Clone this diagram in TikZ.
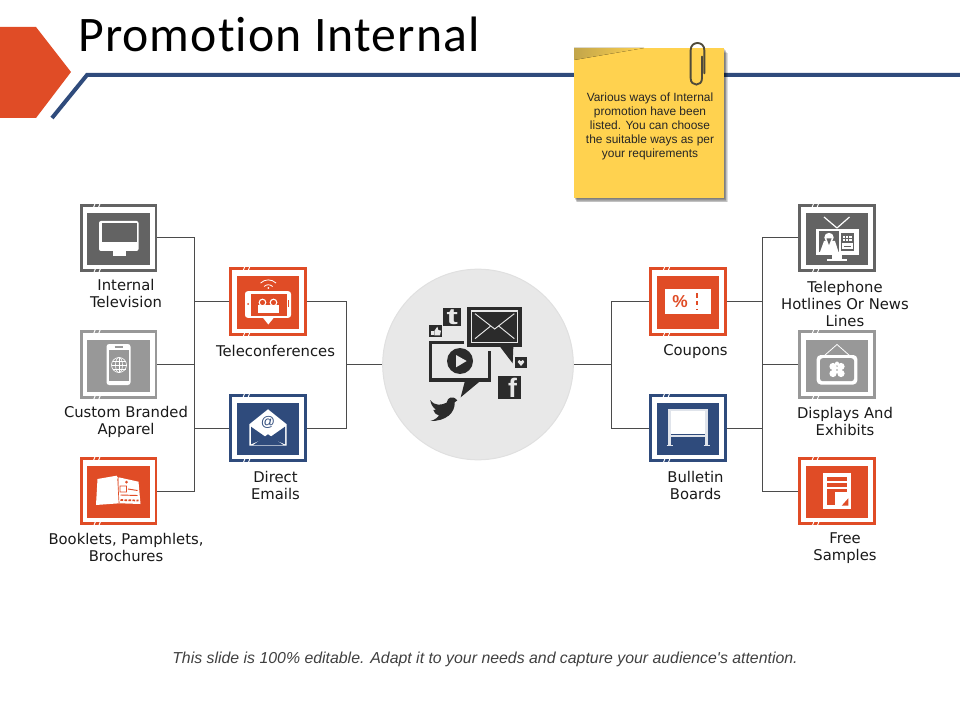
\documentclass[tikz,border=0pt]{standalone}
\usepackage{fontspec}
\setmainfont{DejaVu Sans}
\newfontfamily\titlefont[Ligatures=NoCommon, LetterSpace=2.2]{Carlito}
\newfontfamily\notefont{Liberation Sans}
\definecolor{tvgray}{HTML}{636363}
\definecolor{softgray}{HTML}{989898}
\definecolor{brick}{HTML}{E04C26}
\definecolor{navy}{HTML}{2F4B7C}
\definecolor{sticky}{HTML}{FFD24F}
\definecolor{foldtone}{HTML}{C2A54A}
\definecolor{clipdark}{HTML}{4F4A3A}
\definecolor{hubfill}{HTML}{E8E8E8}
\definecolor{inkdark}{HTML}{2B2B2B}
\newcommand{\iconbox}[4]{
\node[framebox, draw=#4] (#1) at (#2,#3) {};
\node[innerbox, fill=#4] (#1in) at (#2,#3+1) {};
\foreach \tx in {-25,-20} {
\draw[tickmark] (#2+\tx,#3-30.5) -- ++(2,-5);
\draw[tickmark] (#2+\tx,#3+35.5) -- ++(2,-5);
}
}
\begin{document}
\begin{tikzpicture}[x=0.75pt, y=-0.75pt,
framebox/.style = {rectangle, fill=white, line width=2pt, minimum width=56pt, minimum height=49.2pt, inner sep=0pt},
innerbox/.style = {rectangle, minimum width=47.2pt, minimum height=39pt, inner sep=0pt},
tickmark/.style = {white, line width=0.7pt},
link/.style = {draw=inkdark!85, line width=0.75pt},
caption/.style = {align=center, font=\fontsize{11.1pt}{12.75pt}\selectfont, text=black!90, inner sep=0pt},
ink/.style = {fill=inkdark, draw=none},
rule/.style = {draw=navy, line width=3pt, line join=miter}]
\useasboundingbox (0,0) rectangle (960,720);
\fill[brick] (0,27) -- (36,27) -- (71,72) -- (36,118) -- (0,118) -- cycle;
\coordinate (ruleend) at (960,75);
\coordinate (ruleknee) at (87,75);
\coordinate (rulefoot) at (52,118);
\draw[rule] (rulefoot) -- (ruleknee) -- (ruleend);
\node[anchor=base west, inner sep=0pt, font=\titlefont\fontsize{37.3pt}{37.3pt}\selectfont] (title) at (78,52) {Promotion Internal};

\node[circle, fill=hubfill, draw=black!12, line width=0.75pt, minimum size=143pt, inner sep=0pt] (hub) at (478,364.5) {};

\iconbox{tv}{118.5}{238}{tvgray}
\iconbox{apparel}{118.5}{364.5}{softgray}
\iconbox{booklet}{118.5}{491}{brick}
\iconbox{tele}{268}{301.5}{brick}
\iconbox{mail}{268}{428}{navy}
\iconbox{coupon}{688}{301.5}{brick}
\iconbox{board}{688}{428}{navy}
\iconbox{phone}{837}{238}{tvgray}
\iconbox{display}{837}{364.5}{softgray}
\iconbox{sample}{837}{491}{brick}

\coordinate (busa) at (194,364.5);
\coordinate (busb) at (346,364.5);
\coordinate (busc) at (611,364.5);
\coordinate (busd) at (762,364.5);
\draw[link] (tv.east) -| (busa);
\draw[link] (apparel.east) -- (busa);
\draw[link] (booklet.east) -| (busa);
\draw[link] (tele.west) -| (busa);
\draw[link] (mail.west) -| (busa);
\draw[link] (tele.east) -| (busb);
\draw[link] (mail.east) -| (busb);
\draw[link] (busb) -- (hub.west);
\draw[link] (hub.east) -- (busc);
\draw[link] (coupon.west) -| (busc);
\draw[link] (board.west) -| (busc);
\draw[link] (coupon.east) -| (busd);
\draw[link] (board.east) -| (busd);
\draw[link] (phone.west) -| (busd);
\draw[link] (display.west) -- (busd);
\draw[link] (sample.west) -| (busd);

\node[caption] (captv) at (126,293.3) {Internal\\Television};
\node[caption] (capapparel) at (126,421.5) {Custom Branded\\Apparel};
\node[caption] (capbooklet) at (126,547.5) {Booklets, Pamphlets,\\Brochures};
\node[caption] (captele) at (275.5,350.5) {Teleconferences};
\node[caption] (capmail) at (275.5,485.3) {Direct\\Emails};
\node[caption] (capcoupon) at (695.5,351.5) {Coupons};
\node[caption] (capboard) at (695.5,485.3) {Bulletin\\Boards};
\node[caption] (capphone) at (845,303.5) {Telephone\\Hotlines Or News\\Lines};
\node[caption] (capdisplay) at (845,421.8) {Displays And\\Exhibits};
\node[caption] (capsample) at (845,548) {Free\\Samples};

\begin{scope}[shift={(tv.center)}]
\fill[white, rounded corners=1.5pt] (-19.5,-17) rectangle (20,13);
\fill[tvgray] (-17,-15) rectangle (18,4);
\fill[white] (-6,13) rectangle (7.5,18);
\end{scope}

\begin{scope}[shift={(apparel.center)}]
\fill[white, rounded corners=2pt] (-12,-20.5) rectangle (12,20.5);
\fill[softgray] (-10,-14.5) rectangle (10,16);
\draw[softgray, line width=0.8pt] (-4,-17.5) -- (4,-17.5);
\draw[white, line width=0.45pt] (0.5,0.5) circle (7.5);
\draw[white, line width=0.45pt] (0.5,0.5) ellipse (3.5 and 7.5);
\draw[white, line width=0.45pt] (-7,0.5) -- (8,0.5) (0.5,-7) -- (0.5,8) (-6,-3.5) -- (7,-3.5) (-6,4.5) -- (7,4.5);
\end{scope}

\begin{scope}[shift={(booklet.center)}]
\fill[white] (-21,-12) -- (-2,-15.3) -- (-0.2,-12.7) -- (0.8,12.3) -- (-22.5,14) -- cycle;
\fill[white] (0,-13.7) -- (20,-9.3) -- (22,13) -- (0.8,12.3) -- cycle;
\fill[brick] (8,-9) circle (1.5);
\draw[brick, line width=0.7pt] (1.5,-5) rectangle (8,1) (9.5,-2) -- (19,-0.5) (2,4) -- (19,4.5);
\draw[brick, line width=1.3pt, dash pattern=on 2pt off 1pt] (2,9) -- (20,9.5);
\draw[brick, line width=0.5pt] (-0.8,-12.5) -- (0.5,12);
\end{scope}

\begin{scope}[shift={(tele.center)}]
\fill[white, rounded corners=2pt] (-23,-10.3) rectangle (23,16.3);
\fill[white] (-5.3,16) -- (6,16) -- (0.3,23) -- cycle;
\fill[brick] (-17,-7.7) rectangle (18.7,14);
\fill[brick] (-20,2.5) circle (1);
\draw[brick, line width=0.4pt] (20.7,-1) -- (20.7,6);
\fill[white] (-10.5,4) rectangle (10.5,11);
\draw[white, fill=brick, line width=0.8pt] (-5.5,1) circle (3.3) (5.5,1) circle (3.3);
\fill[white] (0.3,-13.5) circle (1);
\draw[white, line width=0.6pt] (-3.9,-15) arc (225:315:6) (-7.5,-18.4) arc (225:315:11);
\end{scope}

\begin{scope}[shift={(mail.center)}]
\fill[white] (-18.7,-3.7) -- (0,-18.7) -- (18.7,-3.7) -- (18.7,17.7) -- (-18.7,17.7) -- cycle;
\fill[navy] (-17,-1.3) -- (-1.3,9.7) -- (-17,16.3) -- cycle;
\fill[navy] (17,-1.3) -- (1.3,9.7) -- (17,16.3) -- cycle;
\fill[navy] (-14.7,17) -- (0,6.3) -- (15.3,17) -- cycle;
\node[text=navy, inner sep=0pt, font=\notefont\fontsize{10.5pt}{10.5pt}\selectfont] (mailat) at (0,-6) {@};
\end{scope}

\begin{scope}[shift={(coupon.center)}]
\fill[white] (-23,-12.7) rectangle (23,12.3);
\node[text=brick, inner sep=0pt, font=\notefont\bfseries\fontsize{13pt}{13pt}\selectfont] (couponpct) at (-8,0.5) {\%};
\draw[brick, line width=1.4pt, dash pattern=on 3.2pt off 2.6pt] (8.7,-8) -- (8.7,8);
\end{scope}

\begin{scope}[shift={(board.center)}]
\fill[white] (-17.3,-17) rectangle (17.3,6.3);
\draw[white!85!navy, line width=2pt] (-18.5,-19) -- (-18.5,17) (18.5,-19) -- (18.5,17);
\draw[white!85!navy, line width=1.2pt] (-18.5,-18.2) -- (18.5,-18.2) (-18.5,7.8) -- (18.5,7.8);
\draw[white!85!navy, line width=1.4pt] (-21.5,17.5) -- (-15.5,17.5) (15.5,17.5) -- (21.5,17.5);
\end{scope}

\begin{scope}[shift={(phone.center)}]
\draw[white, line width=0.9pt] (0,-10) -- (-13,-21) (0,-10) -- (12.5,-21);
\fill[white] (-21.5,-9) rectangle (21.5,17);
\fill[white] (-5,17) rectangle (5,22);
\fill[white] (-10,21.5) rectangle (10,23);
\fill[tvgray] (-18,-6.5) rectangle (2,14);
\fill[white] (-8,-0.5) circle (4.7);
\fill[white] (-17,14) -- (-13,3) -- (-2,3) -- (1.5,14) -- cycle;
\fill[tvgray] (-10.5,0.5) -- (-5.5,0.5) -- (-8,7) -- cycle;
\fill[tvgray] (4,-5) rectangle (17,13);
\fill[white] (6,-2) rectangle (15,3);
\fill[white] (5,5) rectangle (16,11);
\draw[tvgray, line width=0.45pt] (6,0.5) -- (15,0.5) (8,-2) -- (8,3) (11,-2) -- (11,3) (7,8) -- (14,8);
\end{scope}

\begin{scope}[shift={(display.center)}]
\draw[white, line width=0.6pt] (-12.5,-9) -- (0,-20) -- (12.5,-9);
\fill[white, rounded corners=3pt] (-20.3,-9.5) rectangle (20.3,20);
\fill[softgray, rounded corners=2pt] (-17,-6.3) rectangle (17,16.7);
\fill[white] (-4,2) circle (3.6) (4,2) circle (3.6) (-4,9) circle (3.6) (4,9) circle (3.6) (0,-1) circle (2) (0,5.5) circle (3);
\fill[softgray] (0,5.5) circle (0.8);
\end{scope}

\begin{scope}[shift={(sample.center)}]
\fill[white] (-13.7,-17.7) rectangle (14,18);
\fill[brick] (-9.7,-13.7) rectangle (9.7,-10.3);
\fill[brick] (-9.7,-7.7) rectangle (9.7,-4.3);
\fill[brick] (-9.7,-1.7) rectangle (9.7,1.3);
\fill[brick] (-9.7,1.3) rectangle (-2,14);
\fill[brick] (4.7,14.7) -- (11.3,7.3) -- (11.3,14.7) -- cycle;
\end{scope}

\begin{scope}[shift={(370,260)}, x=0.25pt, y=-0.25pt]
\fill[ink] (291,141) rectangle (456,262);
\fill[ink] (390,260) -- (430,260) -- (428,310) -- cycle;
\draw[hubfill, line width=0.9pt] (305,153) rectangle (443,248);
\draw[hubfill, line width=0.7pt] (315,161) -- (374,207) -- (433,161) (315,236) -- (362,198) (433,236) -- (386,198);
\draw[inkdark, line width=2.4pt] (282,248) -- (182,248) -- (182,360) -- (358,360) -- (358,272);
\fill[ink] (285,362) -- (332,362) -- (272,412) -- cycle;
\fill[ink] (270,303) circle (39);
\fill[hubfill] (258,285) -- (258,322) -- (290,303) -- cycle;
\fill[ink] (219,145) rectangle (273,197);
\node[text=hubfill, inner sep=0pt, xscale=1.5, font=\notefont\bfseries\fontsize{17pt}{17pt}\selectfont] (twlogo) at (247,171) {t};
\fill[ink] (178,196) rectangle (217,231);
\fill[hubfill] (184,213) rectangle (191,226);
\fill[hubfill] (193,226) -- (193,213) -- (202,200) -- (205,210) -- (213,212) -- (210,226) -- cycle;
\fill[ink] (435,291) rectangle (471,324);
\fill[hubfill] (453,318) -- (443,306) .. controls (443,298) and (451,298) .. (453,304) .. controls (455,298) and (463,298) .. (463,306) -- cycle;
\fill[ink] (384,348) rectangle (453,416);
\node[text=hubfill, inner sep=0pt, anchor=base, font=\notefont\bfseries\fontsize{20pt}{20pt}\selectfont] (fblogo) at (428,412) {f};
\fill[ink] (181,420) .. controls (195,440) and (215,435) .. (230,428) .. controls (232,412) and (248,405) .. (262,421) -- (254,427) .. controls (256,458) and (228,484) .. (181,483) .. controls (195,480) and (203,472) .. (207,466) .. controls (197,463) and (192,458) .. (190,450) -- (198,449) .. controls (188,442) and (182,432) .. (181,420) -- cycle;
\end{scope}

\foreach \s in {1,2,3,4,5} {
\fill[black, opacity=0.13] (574+\s*0.6,48+\s) rectangle (724+\s*0.8,198+\s*0.9);
}
\fill[sticky] (574,48) rectangle (724,198);
\fill[left color=foldtone, right color=sticky] (574,48) -- (644,48) -- (574,60) -- cycle;
\node[align=center, inner sep=0pt, text=black!85, font=\notefont\fontsize{8.95pt}{10.65pt}\selectfont] (note) at (650,126.5) {Various ways of Internal\\promotion have been\\listed. You can choose\\the suitable ways as per\\your requirements};
\begin{scope}[shift={(560,30)}, x=0.25pt, y=-0.25pt]
\draw[draw=clipdark, line width=1.4pt, line cap=round] (426,80) -- (426,145) .. controls (426,170) and (392,170) .. (392,145) -- (392,60) .. controls (392,32) and (433,32) .. (433,60) -- (433,130);
\end{scope}

\node[inner sep=0pt, text=black!75, font=\notefont\itshape\fontsize{11.9pt}{11.9pt}\selectfont] (footer) at (485,659) {This slide is 100\% editable. Adapt it to your needs and capture your audience's attention.};
\end{tikzpicture}
\end{document}
